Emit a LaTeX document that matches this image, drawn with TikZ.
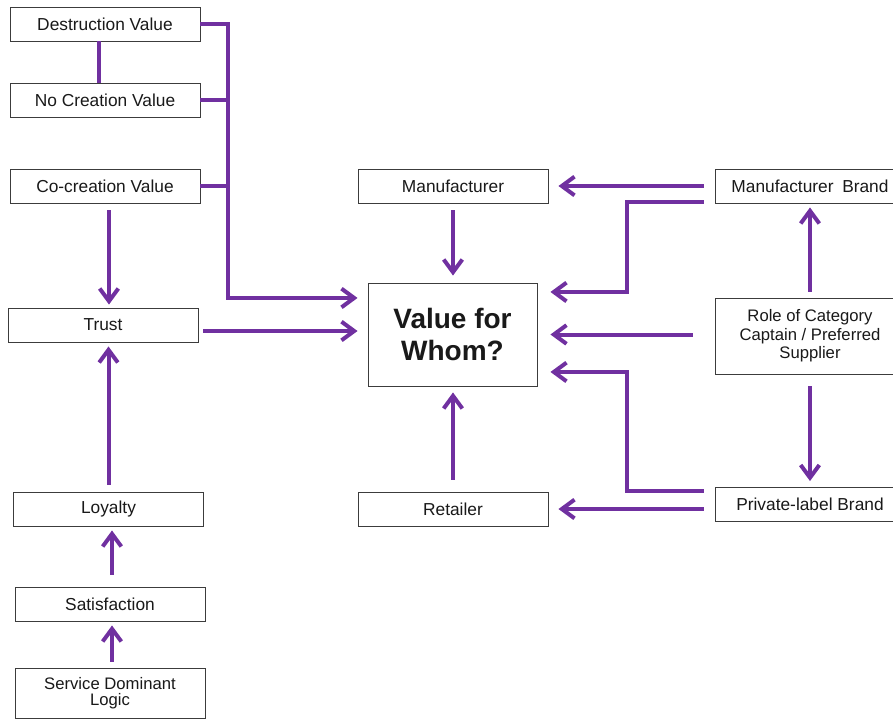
\documentclass[tikz,border=0pt]{standalone}
\usepackage{fontspec}
\setmainfont{Liberation Sans}
\usetikzlibrary{arrows.meta}
\definecolor{flowpurple}{RGB}{112,48,160}
\definecolor{boxline}{RGB}{60,60,60}

\begin{document}
\begin{tikzpicture}[x=0.75pt, y=-0.75pt,
    box/.style={draw=boxline, line width=0.7pt, fill=white, text=black!90,
      minimum width=142.5pt, minimum height=25.5pt, inner sep=1pt,
      align=center, font=\fontsize{13}{13}\selectfont},
    link/.style={draw=flowpurple, line width=3pt},
    flow/.style={link, -{Straight Barb[length=9.5pt,width=14pt]}}]
      \useasboundingbox (0, 0) rectangle (893, 718);
      \node[box] (destruction) at (105, 24) {Destruction Value};
      \node[box] (nocreation) at (105, 100) {No Creation Value};
      \node[box] (cocreation) at (105, 186) {Co-creation Value};
      \node[box] (trust) at (103, 325) {Trust};
      \node[box] (loyalty) at (108.5, 509) {Loyalty};
      \node[box] (satisfaction) at (110, 604) {Satisfaction};
      \node[box, minimum height=37.5pt, font=\fontsize{12.5}{12}\selectfont] (sdl) at (110, 693) {Service Dominant\\Logic};
      \node[box] (manufacturer) at (453, 186) {Manufacturer};
      \node[box, minimum width=126.75pt, minimum height=77.25pt,
        font=\bfseries\fontsize{21}{24}\selectfont] (value) at (452.5, 334.5) {Value for\\Whom?};
      \node[box] (retailer) at (453, 509) {Retailer};
      \node[box] (mbrand) at (810, 186) {Manufacturer\enspace Brand};
      \node[box, minimum height=57pt, font=\fontsize{12.5}{14}\selectfont] (role) at (810, 336) {Role of Category\\Captain / Preferred\\Supplier};
      \node[box] (plbrand) at (810, 504.5) {Private-label Brand};
      \coordinate (bustop) at (228, 24);
      \draw[flow, shorten >=7.5pt] (destruction.east) -- (bustop) |- ([yshift=27.4pt]value.west);
      \draw[link] (nocreation.east) -- (nocreation.east -| bustop);
      \draw[link] (cocreation.east) -- (cocreation.east -| bustop);
      \draw[link] ([xshift=-4.5pt]destruction.south) -- ([xshift=-4.5pt]nocreation.north);
      \draw[flow, shorten <=5.25pt, shorten >=2.25pt] ([xshift=3pt]cocreation.south) -- ([xshift=3pt]cocreation.south |- trust.north);
      \draw[flow, shorten <=3.75pt, shorten >=7.5pt] ([yshift=-4.5pt]trust.east) -- ([yshift=-4.5pt]trust.east -| value.west);
      \draw[flow, shorten <=5.25pt, shorten >=3pt] (loyalty.north) -- (loyalty.north |- trust.south);
      \draw[flow, shorten <=9pt, shorten >=3pt] ([xshift=1.5pt]satisfaction.north) -- ([xshift=1.5pt]satisfaction.north |- loyalty.south);
      \draw[flow, shorten <=4.5pt, shorten >=3pt] ([xshift=1.5pt]sdl.north) -- ([xshift=1.5pt]sdl.north |- satisfaction.south);
      \draw[flow, shorten <=5.25pt, shorten >=5.25pt] (manufacturer.south) -- (manufacturer.south |- value.north);
      \draw[flow, shorten <=9pt, shorten >=4.5pt] (retailer.north) -- (retailer.north |- value.south);
      \draw[flow, shorten <=8.25pt, shorten >=7.5pt] (mbrand.west) -- (manufacturer.east);
      \draw[flow, shorten >=9.75pt] ([xshift=-8.25pt, yshift=0.75pt]mbrand.south west) -- ++(-77, 0) |- ([yshift=31.9pt]value.east);
      \draw[flow, shorten <=16.5pt, shorten >=9.75pt] (value.east -| role.west) -- (value.east);
      \draw[flow, shorten <=4.5pt, shorten >=3pt] (role.north) -- (mbrand.south);
      \draw[flow, shorten <=9pt, shorten >=4.5pt] (role.south) -- (plbrand.north);
      \draw[flow, shorten >=9.75pt] ([xshift=-8.25pt, yshift=-3pt]plbrand.north west) -- ++(-77, 0) |- ([yshift=-28.1pt]value.east);
      \draw[flow, shorten <=8.25pt, shorten >=7.5pt] (retailer.east -| plbrand.west) -- (retailer.east);
    \end{tikzpicture}
\end{document}
